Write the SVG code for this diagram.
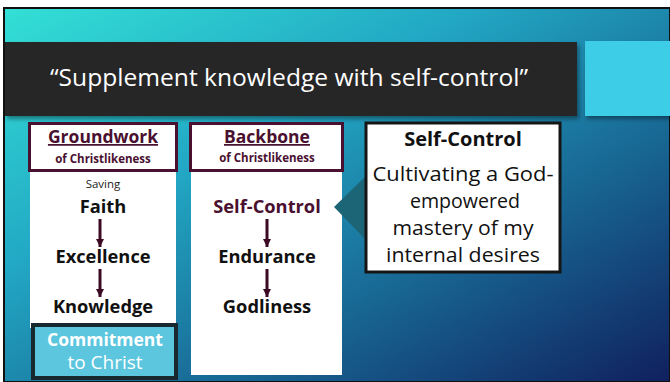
<svg xmlns="http://www.w3.org/2000/svg" width="670" height="382" viewBox="0 0 670 382">
<defs>
<linearGradient id="bg" x1="0" y1="0" x2="1" y2="1">
<stop offset="0" stop-color="#33e0d6"/>
<stop offset="0.35" stop-color="#22a8c4"/>
<stop offset="0.7" stop-color="#17608e"/>
<stop offset="1" stop-color="#10205e"/>
</linearGradient>
<marker id="ah" viewBox="0 0 10 10" refX="10" refY="5" markerWidth="8" markerHeight="10" markerUnits="userSpaceOnUse" orient="auto">
<path d="M0,0 L10,5 L0,10 Z" fill="#3d0a24"/>
</marker>
<filter id="sh" x="-5%" y="-5%" width="110%" height="130%">
<feDropShadow dx="2" dy="3" stdDeviation="2" flood-color="#000" flood-opacity="0.4"/>
</filter>
</defs>
<style>
text{font-family:"Open Sans","Liberation Sans",sans-serif;text-anchor:middle}
.b{font-weight:bold}
.hd{fill:#4a1030;font-weight:bold;font-size:17.5px;text-decoration:underline}
.sub{fill:#4a1030;font-weight:bold;font-size:11.5px}
.it{fill:#111;font-weight:bold;font-size:18.3px}
.hbox{fill:#fff;stroke:#4a1030;stroke-width:3}
.arr{stroke:#3d0a24;stroke-width:3;fill:none}
.cl{font-size:19.5px;fill:#111}
</style>
<rect x="0" y="0" width="670" height="382" fill="#fff"/>
<rect x="4" y="8" width="666" height="374" fill="url(#bg)"/>
<rect x="4" y="8" width="666" height="374" fill="none" stroke="#111" stroke-width="2"/>
<g id="title">
<rect x="5" y="42" width="572" height="74" fill="#262626" filter="url(#sh)"/>
<text x="289" y="86" style="font-size:24px;fill:#fff" textLength="478" lengthAdjust="spacingAndGlyphs">“Supplement knowledge with self-control”</text>
</g>
<rect x="585" y="41" width="85" height="75" fill="#3ccde6" filter="url(#sh)"/>
<g id="groundwork">
<rect x="30" y="168" width="146" height="160" fill="#fff"/>
<rect x="29.5" y="123.5" width="147" height="47" class="hbox"/>
<text x="103" y="143" class="hd">Groundwork</text>
<text x="103" y="163" class="sub">of Christlikeness</text>
<text x="103" y="188" style="font-size:11.5px;fill:#222">Saving</text>
<text x="103" y="213" class="it">Faith</text>
<text x="103" y="263" class="it">Excellence</text>
<text x="103" y="313" class="it">Knowledge</text>
</g>
<g id="commitment">
<rect x="33" y="325" width="143" height="53" fill="#5bc6de" stroke="#17282e" stroke-width="4"/>
<text x="105" y="346" class="b" style="font-size:17.5px;fill:#fff">Commitment</text>
<text x="105" y="369" style="font-size:19px;fill:#fff">to Christ</text>
</g>
<g id="backbone">
<rect x="191" y="168" width="151" height="207" fill="#fff"/>
<rect x="190.5" y="123.5" width="152" height="47" class="hbox"/>
<text x="267" y="143" class="hd">Backbone</text>
<text x="267" y="162" class="sub">of Christlikeness</text>
<text x="267" y="213" class="it" style="fill:#4a1030">Self-Control</text>
<text x="267" y="263" class="it">Endurance</text>
<text x="267" y="313" class="it">Godliness</text>
</g>
<g id="callout">
<polygon points="334,207 366,176 366,240" fill="#1b6577"/>
<rect x="366" y="123" width="194" height="149" fill="#fff" stroke="#151515" stroke-width="3"/>
<text x="463" y="146" class="b" style="font-size:20px;fill:#111">Self-Control</text>
<text x="463" y="181" class="cl" textLength="181" lengthAdjust="spacingAndGlyphs">Cultivating a God-</text>
<text x="465" y="208" class="cl" textLength="110" lengthAdjust="spacingAndGlyphs">empowered</text>
<text x="463" y="234.5" class="cl" textLength="141" lengthAdjust="spacingAndGlyphs">mastery of my</text>
<text x="463" y="261.5" class="cl" textLength="154" lengthAdjust="spacingAndGlyphs">internal desires</text>
</g>
<g id="connectors">
<line x1="100" y1="219" x2="100" y2="247" class="arr" marker-end="url(#ah)"/>
<line x1="100" y1="269" x2="100" y2="297" class="arr" marker-end="url(#ah)"/>
<line x1="267" y1="219" x2="267" y2="247" class="arr" marker-end="url(#ah)"/>
<line x1="267" y1="269" x2="267" y2="297" class="arr" marker-end="url(#ah)"/>
</g>
</svg>
